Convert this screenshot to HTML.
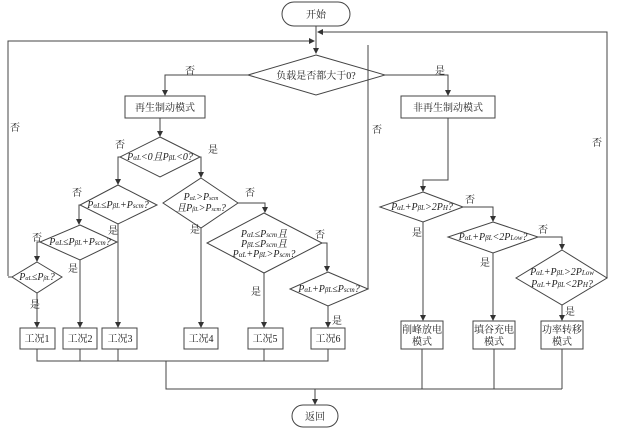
<!DOCTYPE html>
<html><head><meta charset="utf-8"><style>
body{margin:0;background:#fff}
svg text{font-family:"Liberation Serif","Noto Serif CJK SC",serif;font-size:10px;fill:#222}
.i{font-style:italic}
</style></head><body>
<svg width="617" height="431" viewBox="0 0 617 431" xmlns="http://www.w3.org/2000/svg">
<defs><marker id="a" markerWidth="6" markerHeight="6" refX="5" refY="3" orient="auto"><path d="M0,0L6,3L0,6z" fill="#333"/></marker></defs>
<g stroke="#444" stroke-width="1" fill="none">
<rect x="282" y="2" width="68" height="24" rx="12"/>
<line x1="316" y1="26" x2="316" y2="53" marker-end="url(#a)"/>
<polyline points="8,276 8,41 314,41" marker-end="url(#a)"/>
<polyline points="368,289 368,45"/>
<polyline points="607,278 607,32 318,32" marker-end="url(#a)"/>
<polygon points="316,55 385,75 316,95 248,75"/>
<polyline points="248,75 165,75 165,95" marker-end="url(#a)"/>
<polyline points="385,75 448,75 448,95" marker-end="url(#a)"/>
<rect x="125" y="96" width="80" height="22"/>
<rect x="401" y="96" width="94" height="22"/>
<line x1="160" y1="118" x2="160" y2="136" marker-end="url(#a)"/>
<polygon points="160,137 200,157 160,177 120,157"/>
<polyline points="120,157 118,157 118,184" marker-end="url(#a)"/>
<polyline points="200,157 201,157 201,177" marker-end="url(#a)"/>
<polygon points="118,185 157,205 118,224 80,205"/>
<polyline points="80,205 79,205 79,224" marker-end="url(#a)"/>
<polygon points="80,225 117,242 80,260 40,242"/>
<polyline points="40,242 37,242 37,261" marker-end="url(#a)"/>
<polygon points="37,262 62,277 37,293 12,277"/>
<line x1="12" y1="277" x2="8" y2="277"/>
<polygon points="201,178 238,203 201,228 163,203"/>
<polyline points="238,203 265,203 265,212" marker-end="url(#a)"/>
<polygon points="264,213 322,243 264,273 207,243"/>
<polyline points="322,243 327,243 327,271" marker-end="url(#a)"/>
<polygon points="328,272 368,289 328,306 290,289"/>
<line x1="37" y1="293" x2="37" y2="327" marker-end="url(#a)"/>
<line x1="80" y1="260" x2="80" y2="327" marker-end="url(#a)"/>
<line x1="118" y1="224" x2="118" y2="327" marker-end="url(#a)"/>
<line x1="201" y1="228" x2="201" y2="327" marker-end="url(#a)"/>
<line x1="264" y1="273" x2="264" y2="327" marker-end="url(#a)"/>
<line x1="328" y1="306" x2="328" y2="327" marker-end="url(#a)"/>
<rect x="20" y="328" width="35" height="21"/>
<rect x="63" y="328" width="34" height="21"/>
<rect x="102" y="328" width="35" height="21"/>
<rect x="184" y="328" width="34" height="21"/>
<rect x="248" y="328" width="35" height="21"/>
<rect x="311" y="328" width="34" height="21"/>
<polyline points="37,349 37,361 328,361 328,349"/>
<line x1="80" y1="349" x2="80" y2="361"/><line x1="118" y1="349" x2="118" y2="361"/>
<line x1="264" y1="349" x2="264" y2="361"/>
<polyline points="448,118 448,180 423,180 423,191" marker-end="url(#a)"/>
<polygon points="423,192 463,207 423,222 380,207"/>
<polyline points="463,207 493,207 493,221" marker-end="url(#a)"/>
<polygon points="493,222 538,237 493,253 448,237"/>
<polyline points="538,237 562,237 562,249" marker-end="url(#a)"/>
<polygon points="562,250 607,278 562,305 516,278"/>
<line x1="423" y1="222" x2="423" y2="320" marker-end="url(#a)"/>
<line x1="493" y1="253" x2="493" y2="320" marker-end="url(#a)"/>
<line x1="562" y1="305" x2="562" y2="320" marker-end="url(#a)"/>
<rect x="401" y="321" width="42" height="28"/>
<rect x="473" y="321" width="42" height="28"/>
<rect x="541" y="321" width="42" height="28"/>
<line x1="422" y1="349" x2="422" y2="389"/><line x1="494" y1="349" x2="494" y2="389"/><line x1="562" y1="349" x2="562" y2="389"/>
<polyline points="166,361 166,389 562,389"/>
<line x1="315" y1="389" x2="315" y2="404" marker-end="url(#a)"/>
<rect x="292" y="405" width="46" height="22" rx="11"/>
</g>
<g text-anchor="middle">
<text x="316" y="18">开始</text><text x="315" y="420">返回</text>
<text x="316" y="79">负载是否都大于0?</text>
<text x="165" y="111">再生制动模式</text><text x="448" y="111">非再生制动模式</text>
<text x="160" y="160" class="i" font-size="9">P<tspan font-size="7">αL</tspan>&lt;0且P<tspan font-size="7">βL</tspan>&lt;0?</text>
<text x="118" y="208" class="i" font-size="9">P<tspan font-size="7">αL</tspan>≤P<tspan font-size="7">βL</tspan>+P<tspan font-size="7">scm</tspan>?</text>
<text x="80" y="245" class="i" font-size="9">P<tspan font-size="7">αL</tspan>≤P<tspan font-size="7">βL</tspan>+P<tspan font-size="7">scm</tspan>?</text>
<text x="37" y="280" class="i" font-size="8">P<tspan font-size="6">αL</tspan>≤P<tspan font-size="6">βL</tspan>?</text>
<text x="201" y="200" class="i" font-size="8">P<tspan font-size="6">αL</tspan>&gt;P<tspan font-size="6">scm</tspan></text>
<text x="201" y="211" class="i" font-size="8">且P<tspan font-size="6">βL</tspan>&gt;P<tspan font-size="6">scm</tspan>?</text>
<text x="264" y="237" class="i" font-size="9">P<tspan font-size="7">αL</tspan>≤P<tspan font-size="7">scm</tspan>且</text>
<text x="264" y="247" class="i" font-size="9">P<tspan font-size="7">βL</tspan>≤P<tspan font-size="7">scm</tspan>且</text>
<text x="264" y="257" class="i" font-size="9">P<tspan font-size="7">αL</tspan>+P<tspan font-size="7">βL</tspan>&gt;P<tspan font-size="7">scm</tspan>?</text>
<text x="329" y="292" class="i" font-size="9">P<tspan font-size="7">αL</tspan>+P<tspan font-size="7">βL</tspan>≤P<tspan font-size="7">scm</tspan>?</text>
<text x="422" y="210" class="i" font-size="9">P<tspan font-size="7">αL</tspan>+P<tspan font-size="7">βL</tspan>&gt;2P<tspan font-size="7">H</tspan>?</text>
<text x="493" y="240" class="i" font-size="9">P<tspan font-size="7">αL</tspan>+P<tspan font-size="7">βL</tspan>&lt;2P<tspan font-size="7">Low</tspan>?</text>
<text x="562" y="275" class="i" font-size="9">P<tspan font-size="7">αL</tspan>+P<tspan font-size="7">βL</tspan>&gt;2P<tspan font-size="7">Low</tspan></text>
<text x="562" y="287" class="i" font-size="9">P<tspan font-size="7">αL</tspan>+P<tspan font-size="7">βL</tspan>&lt;2P<tspan font-size="7">H</tspan>?</text>
<text x="37" y="342">工况1</text><text x="80" y="342">工况2</text><text x="120" y="342">工况3</text>
<text x="201" y="342">工况4</text><text x="265" y="342">工况5</text><text x="328" y="342">工况6</text>
<text x="422" y="333">削峰放电</text><text x="422" y="345">模式</text>
<text x="494" y="333">填谷充电</text><text x="494" y="345">模式</text>
<text x="562" y="333">功率转移</text><text x="562" y="345">模式</text>
<text x="190" y="74">否</text><text x="440" y="74">是</text>
<text x="120" y="148">否</text><text x="213" y="153">是</text>
<text x="77" y="196">否</text><text x="113" y="234">是</text>
<text x="37" y="241">否</text><text x="73" y="272">是</text>
<text x="35" y="308">是</text><text x="15" y="131">否</text>
<text x="195" y="233">是</text><text x="250" y="196">否</text>
<text x="320" y="238">否</text><text x="256" y="295">是</text>
<text x="337" y="324">是</text><text x="377" y="133">否</text>
<text x="470" y="203">否</text><text x="417" y="236">是</text>
<text x="543" y="233">否</text><text x="485" y="266">是</text>
<text x="570" y="315">是</text><text x="597" y="146">否</text>
</g>
</svg>
</body></html>
